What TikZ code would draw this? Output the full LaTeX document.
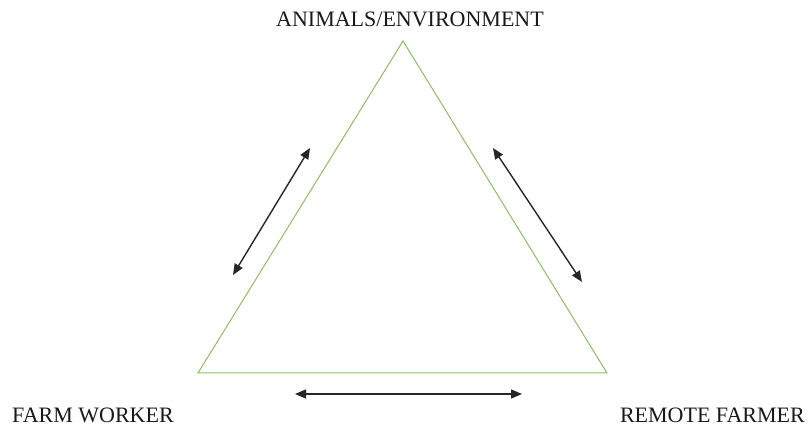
\documentclass[tikz,border=0pt]{standalone}
\usepackage{fontspec}
\setmainfont{Liberation Serif}
\usetikzlibrary{arrows.meta}
\definecolor{trigreen}{RGB}{140,190,100}
\tikzset{
  lbl/.style={inner sep=0pt, font=\fontsize{22}{24}\selectfont, text=black!90},
  edge/.style={draw=trigreen, line width=1pt, line join=miter},
  dblarrow/.style={draw=black!85, line width=1.4pt, {Triangle[length=11pt,width=9pt]}-{Triangle[length=11pt,width=9pt]}}
}
\begin{document}
\begin{tikzpicture}[x=1pt,y=1pt]
\useasboundingbox (0,0) rectangle (809,426);
% triangle vertices
\coordinate (apex) at (403,385);
\coordinate (bl) at (198,53);
\coordinate (br) at (607,53);
\draw[edge] (apex) -- (bl) -- (br) -- cycle;
% arrow end points
\coordinate (l1) at (310,278);
\coordinate (l2) at (233,151);
\coordinate (r1) at (493,278);
\coordinate (r2) at (582,144);
\coordinate (b1) at (295,32);
\coordinate (b2) at (522,32);
\draw[dblarrow] (l1) -- (l2);
\draw[dblarrow] (r1) -- (r2);
\draw[dblarrow] (b1) -- (b2);
% labels
\node[lbl, anchor=base] (top) at (410,399) {ANIMALS/ENVIRONMENT};
\node[lbl, anchor=base west] (fw) at (12,4) {FARM WORKER};
\node[lbl, anchor=base east] (rf) at (805,4) {REMOTE FARMER};
\end{tikzpicture}
\end{document}
